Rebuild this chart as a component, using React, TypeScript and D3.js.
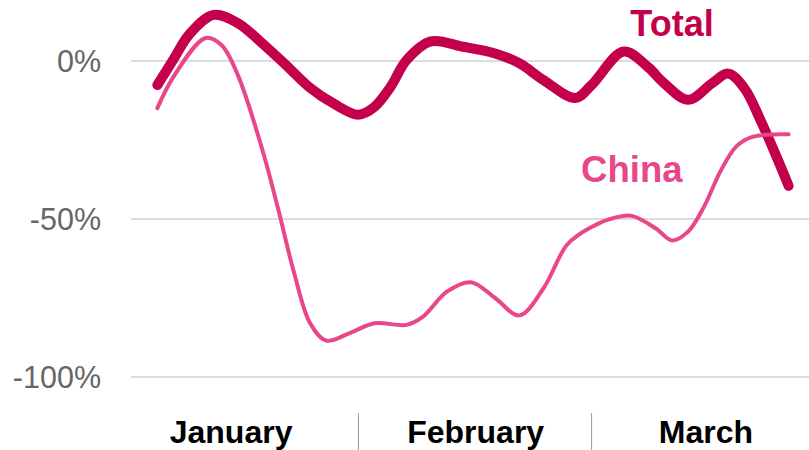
import React from "react";
import * as d3 from "d3";

const totalDates = [
  "2020-01-07", "2020-01-09", "2020-01-11", "2020-01-14", "2020-01-17", "2020-01-20",
  "2020-01-23", "2020-01-26", "2020-01-29", "2020-02-01", "2020-02-03", "2020-02-05",
  "2020-02-07", "2020-02-10", "2020-02-14", "2020-02-18", "2020-02-21", "2020-02-24",
  "2020-02-28", "2020-03-01", "2020-03-05", "2020-03-08", "2020-03-10", "2020-03-13",
  "2020-03-16", "2020-03-18", "2020-03-20", "2020-03-22", "2020-03-24", "2020-03-25T12:00",
];
const totalValues = [
  -7.6, 0.5, 8.5, 14.6, 12, 5.7,
  -1.3, -8.5, -13.6, -17, -14.5, -8.2,
  0.3, 6.2, 4.5, 2.4, -0.7, -6,
  -11.7, -7.6, 3, -1.9, -7, -12.3,
  -7, -4, -8.6, -18.7, -30.3, -39.5,
];

const chinaDates = [
  "2020-01-07", "2020-01-09", "2020-01-13", "2020-01-15", "2020-01-17", "2020-01-20",
  "2020-01-22", "2020-01-24", "2020-01-26", "2020-01-28", "2020-01-31", "2020-02-03",
  "2020-02-07", "2020-02-09", "2020-02-12", "2020-02-15", "2020-02-18", "2020-02-21",
  "2020-02-24", "2020-02-27", "2020-03-01", "2020-03-04", "2020-03-06", "2020-03-09",
  "2020-03-11", "2020-03-13", "2020-03-15", "2020-03-17", "2020-03-19", "2020-03-21",
  "2020-03-25T12:00",
];
const chinaValues = [
  -14.9, -5, 7.3, 5, -4.4, -27.6,
  -46.6, -67, -83, -88.5, -86, -83,
  -83.5, -81, -73, -70, -75, -80.5,
  -72, -58, -52.5, -49.5, -49, -53,
  -56.8, -54, -46, -35, -27, -24,
  -23.2,
];

const yTicks = [0, -50, -100];
const monthNames = ["January", "February", "March"];
const monthLabelDates = ["2020-01-16T04:00", "2020-02-15T14:00", "2020-03-15T05:00"];
const monthStarts = ["2020-02-01", "2020-03-01"];

const seriesLabels = [
  { name: "Total", date: "2020-03-11", value: 7.9 },
  { name: "China", date: "2020-03-06", value: -38.3 },
];

const W = 809;
const H = 450;
const FONT = "'Liberation Sans', Arial, Helvetica, sans-serif";
const TOTAL_COLOR = "#c4004c";
const CHINA_COLOR = "#e8478a";

const parseDay = d3.timeParse("%Y-%m-%d");
const parseHour = d3.timeParse("%Y-%m-%dT%H:%M");
const parse = (s: string): Date => (s.includes("T") ? parseHour(s) : parseDay(s)) as Date;

export default function App() {
  const x = d3
    .scaleTime()
    .domain([parse("2020-02-01"), parse("2020-03-01")])
    .range([358.4, 591.6]);
  const y = d3.scaleLinear().domain([-100, 0]).range([377, 61]);

  const line = d3
    .line<[Date, number]>()
    .x((d) => x(d[0]))
    .y((d) => y(d[1]))
    .curve(d3.curveCatmullRom.alpha(0.5));

  const totalData: [Date, number][] = totalDates.map((d, i) => [parse(d), totalValues[i]]);
  const chinaData: [Date, number][] = chinaDates.map((d, i) => [parse(d), chinaValues[i]]);

  return (
    <svg
      width={W}
      height={H}
      style={{ position: "absolute", left: 0, top: 0, display: "block", background: "#fff" }}
    >
      {yTicks.map((t) => (
        <g key={t}>
          <line x1={131} x2={W} y1={y(t)} y2={y(t)} stroke="#dcdcdc" strokeWidth={2} />
          <text
            x={101}
            y={y(t)}
            dy="0.35em"
            textAnchor="end"
            fontFamily={FONT}
            fontSize={30.5}
            fill="#666"
          >
            {t}%
          </text>
        </g>
      ))}
      {monthStarts.map((m) => (
        <line key={m} x1={x(parse(m))} x2={x(parse(m))} y1={413} y2={H} stroke="#999" strokeWidth={1} />
      ))}
      {monthNames.map((m, i) => (
        <text
          key={m}
          x={x(parse(monthLabelDates[i]))}
          y={443}
          textAnchor="middle"
          fontFamily={FONT}
          fontSize={32}
          fontWeight="bold"
          fill="#000"
        >
          {m}
        </text>
      ))}
      <path
        d={line(totalData) || ""}
        fill="none"
        stroke={TOTAL_COLOR}
        strokeWidth={10}
        strokeLinecap="round"
        strokeLinejoin="round"
      />
      <path
        d={line(chinaData) || ""}
        fill="none"
        stroke={CHINA_COLOR}
        strokeWidth={4}
        strokeLinecap="round"
        strokeLinejoin="round"
      />
      {seriesLabels.map((s, i) => (
        <text
          key={s.name}
          x={x(parse(s.date))}
          y={y(s.value)}
          textAnchor="middle"
          fontFamily={FONT}
          fontSize={i === 0 ? 36 : 36.5}
          fontWeight="bold"
          fill={i === 0 ? TOTAL_COLOR : CHINA_COLOR}
        >
          {s.name}
        </text>
      ))}
    </svg>
  );
}
